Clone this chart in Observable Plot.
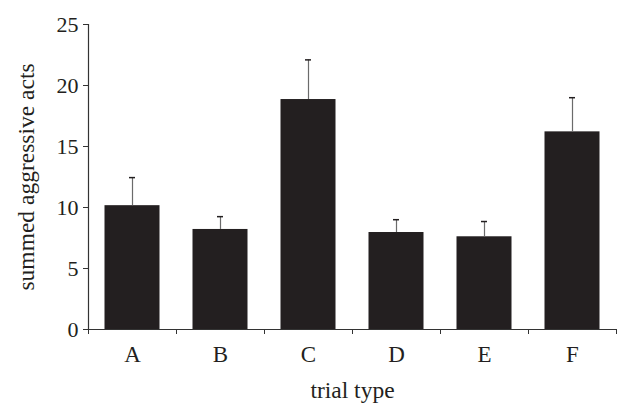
<!DOCTYPE html>
<html>
<head>
<meta charset="utf-8">
<script src="https://cdn.jsdelivr.net/npm/d3@7"></script>
<script src="https://cdn.jsdelivr.net/npm/@observablehq/plot@0.6"></script>
<style>
  body { margin: 0; background: #fff; }
  svg { display: block; }
</style>
</head>
<body>
<div id="chart"></div>
<script>
const categories = ["A", "B", "C", "D", "E", "F"];
const means = [10.15, 8.2, 18.85, 7.95, 7.6, 16.2];
const errors = [2.3, 1.05, 3.25, 1.05, 1.25, 2.8];
const yTicks = [0, 5, 10, 15, 20, 25];

const data = categories.map((c, i) => ({cat: c, mean: means[i], upper: means[i] + errors[i]}));

const font = "Liberation Serif";
const ink = "#231f20";

const chart = Plot.plot({
  width: 622,
  height: 405,
  marginLeft: 88,
  marginRight: 6,
  marginTop: 24,
  marginBottom: 76,
  style: "font-family: 'Liberation Serif', serif; font-size: 22px; background: #fff; color: #231f20;",
  x: {domain: categories, padding: 0},
  y: {domain: [0, 25]},
  marks: [
    Plot.barY(data, {x: "cat", y: "mean", fill: ink, insetLeft: 16.5, insetRight: 16.5}),
    Plot.ruleX(data, {x: "cat", y1: "mean", y2: "upper", stroke: "#6b6b6b", strokeWidth: 1.2}),
    Plot.tickY(data, {x: "cat", y: "upper", stroke: ink, strokeWidth: 1.5, insetLeft: 41, insetRight: 41}),
    Plot.ruleY([0], {stroke: "#333", strokeWidth: 1.2}),
    Plot.axisY({ticks: yTicks, tickSize: 5, tickPadding: 5, fontSize: 22, fontFamily: font, stroke: "#333", label: null}),
    Plot.axisY({ticks: [], tickSize: 0, fontSize: 23.5, fontFamily: font,
      label: "summed aggressive acts", labelAnchor: "center", labelArrow: "none", labelOffset: 71}),
    Plot.frame({anchor: "left", stroke: "#333", strokeWidth: 1.2}),
    Plot.axisX({tickSize: 0, tickPadding: 16, fontSize: 23, fontFamily: font, label: null}),
    Plot.axisX({ticks: [], tickSize: 0, fontSize: 23.5, fontFamily: font,
      label: "trial type", labelAnchor: "center", labelArrow: "none", labelOffset: 68}),
    Plot.axisX({ticks: categories, tickSize: 5, tickFormat: null, label: null, dx: -44, stroke: "#333"}),
    Plot.axisX({ticks: ["F"], tickSize: 5, tickFormat: null, label: null, dx: 44, stroke: "#333"})
  ]
});
document.getElementById("chart").appendChild(chart);
</script>
</body>
</html>
